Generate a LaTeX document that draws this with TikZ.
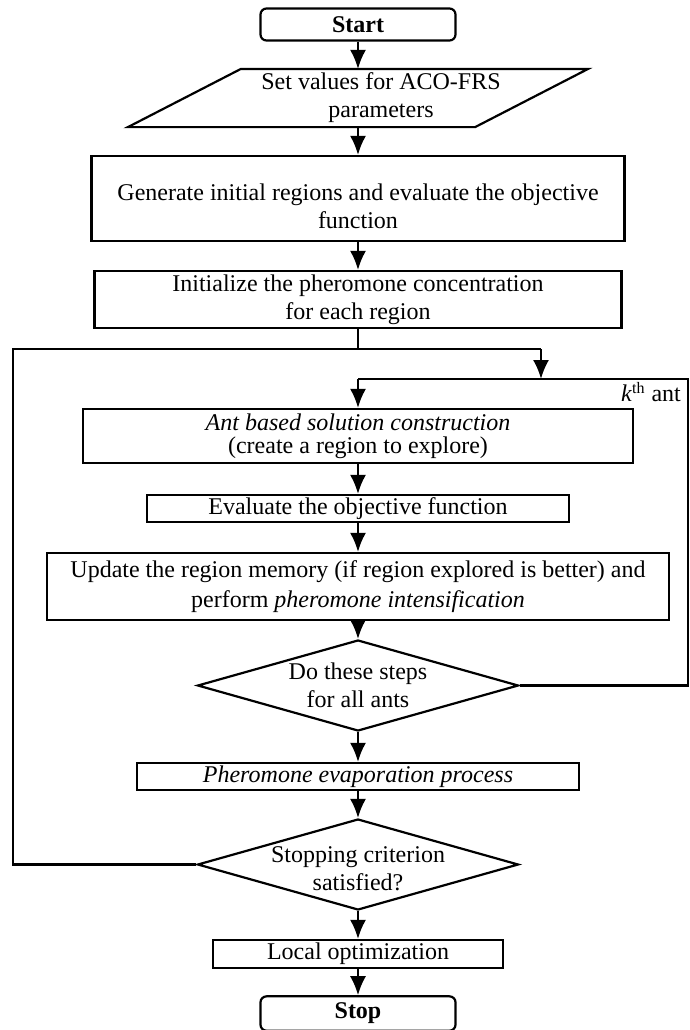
\documentclass[tikz,border=0pt]{standalone}
\usepackage{fontspec}
\setmainfont{Liberation Serif}
\usetikzlibrary{shapes.geometric, arrows.meta}
\tikzstyle{block} = [draw, rectangle, align=center, inner xsep=2pt, inner ysep=1pt]
\tikzstyle{term} = [draw, rectangle, rounded corners=3pt, minimum width=97.5pt,
minimum height=16pt, font=\fontsize{12}{14}\selectfont\bfseries]
\tikzstyle{io} = [rectangle, minimum width=229pt, minimum height=28pt, inner sep=0pt]
\tikzstyle{decision} = [draw, diamond, minimum width=160.5pt, minimum height=45.5pt, inner sep=0pt]
\tikzstyle{txt} = [align=center, inner sep=0pt]

\begin{document}
\begin{tikzpicture}[x=0.5pt,y=-0.5pt,line width=1.1pt,>={Latex[length=9.5pt,width=8pt]},
  font=\fontsize{12}{14}\selectfont]
      \useasboundingbox (0,0) rectangle (690,1030);
      \node [term] (start) at (358,24.5) {Start};
      \node [io, label={[txt,xshift=11.5pt]center:Set values for ACO-FRS\\parameters}] (param) [below of=start, node distance=36.75pt] {};
      \draw ([xshift=56.5pt]param.north west) -- (param.north east) -- ([xshift=-56.5pt]param.south east) -- (param.south west) -- cycle;
      \node [block, minimum width=266.5pt, minimum height=42.5pt] (gen) [below of=param, node distance=50.25pt] {\rule{0pt}{16pt}Generate initial regions and evaluate the objective\\function};
      \node [block, minimum width=263.5pt, minimum height=28.5pt] (init) [below of=gen, node distance=50.5pt] {Initialize the pheromone concentration\\for each region};
      \node [block, minimum width=275pt, minimum height=27pt] (ant) [below of=init, node distance=68.25pt] {\textit{Ant based solution construction}\\[-2.5pt](create a region to explore)};
      \node [block, minimum width=211pt, minimum height=13.5pt] (eval) [below of=ant, node distance=36.25pt] {Evaluate the objective function};
      \node [block, minimum width=311pt, minimum height=33.5pt] (upd) [below of=eval, node distance=39pt] {Update the region memory (if region explored is better) and\\[1pt]perform \textit{pheromone intensification}};
      \node [decision, label={[txt]center:Do these steps\\for all ants}] (all) [below of=upd, node distance=49.5pt] {};
      \node [block, minimum width=221pt, minimum height=13.5pt] (evap) [below of=all, node distance=45.5pt] {\textit{Pheromone evaporation process}};
      \node [decision, label={[txt,yshift=-2pt]center:Stopping criterion\\satisfied?}] (stopq) [below of=evap, node distance=44pt] {};
      \node [block, minimum width=145pt, minimum height=14pt] (local) [below of=stopq, node distance=44.75pt] {Local optimization};
      \node [term] (stop) [below of=local, node distance=29.75pt] {Stop};
      \coordinate (split) at (358,349);
      \coordinate (lcorner) at (13,349);
      \coordinate (rsplit) at (541,349);
      \coordinate (kjoin) at (358,379);
      \coordinate (rcorner) at (688,379);
      \node [anchor=north east, inner sep=1pt, xshift=-2pt] (kth) at (rcorner) {\textit{k}\textsuperscript{th} ant};
      \path[->] (start) edge (param);
      \path[->] (param) edge (gen);
      \path[->] (gen) edge (init);
      \draw (init) -- (split);
      \draw (stopq.west) -| (lcorner) -- (rsplit);
      \draw[->] (rsplit) -- (rsplit |- kjoin);
      \draw (all.east) -| (rcorner) -- (kjoin);
      \draw[->] (kjoin) -- (ant);
      \path[->] (ant) edge (eval);
      \path[->] (eval) edge (upd);
      \path[->] (upd) edge (all);
      \path[->] (all) edge (evap);
      \path[->] (evap) edge (stopq);
      \path[->] (stopq) edge (local);
      \path[->] (local) edge (stop);
  \end{tikzpicture}
\end{document}
